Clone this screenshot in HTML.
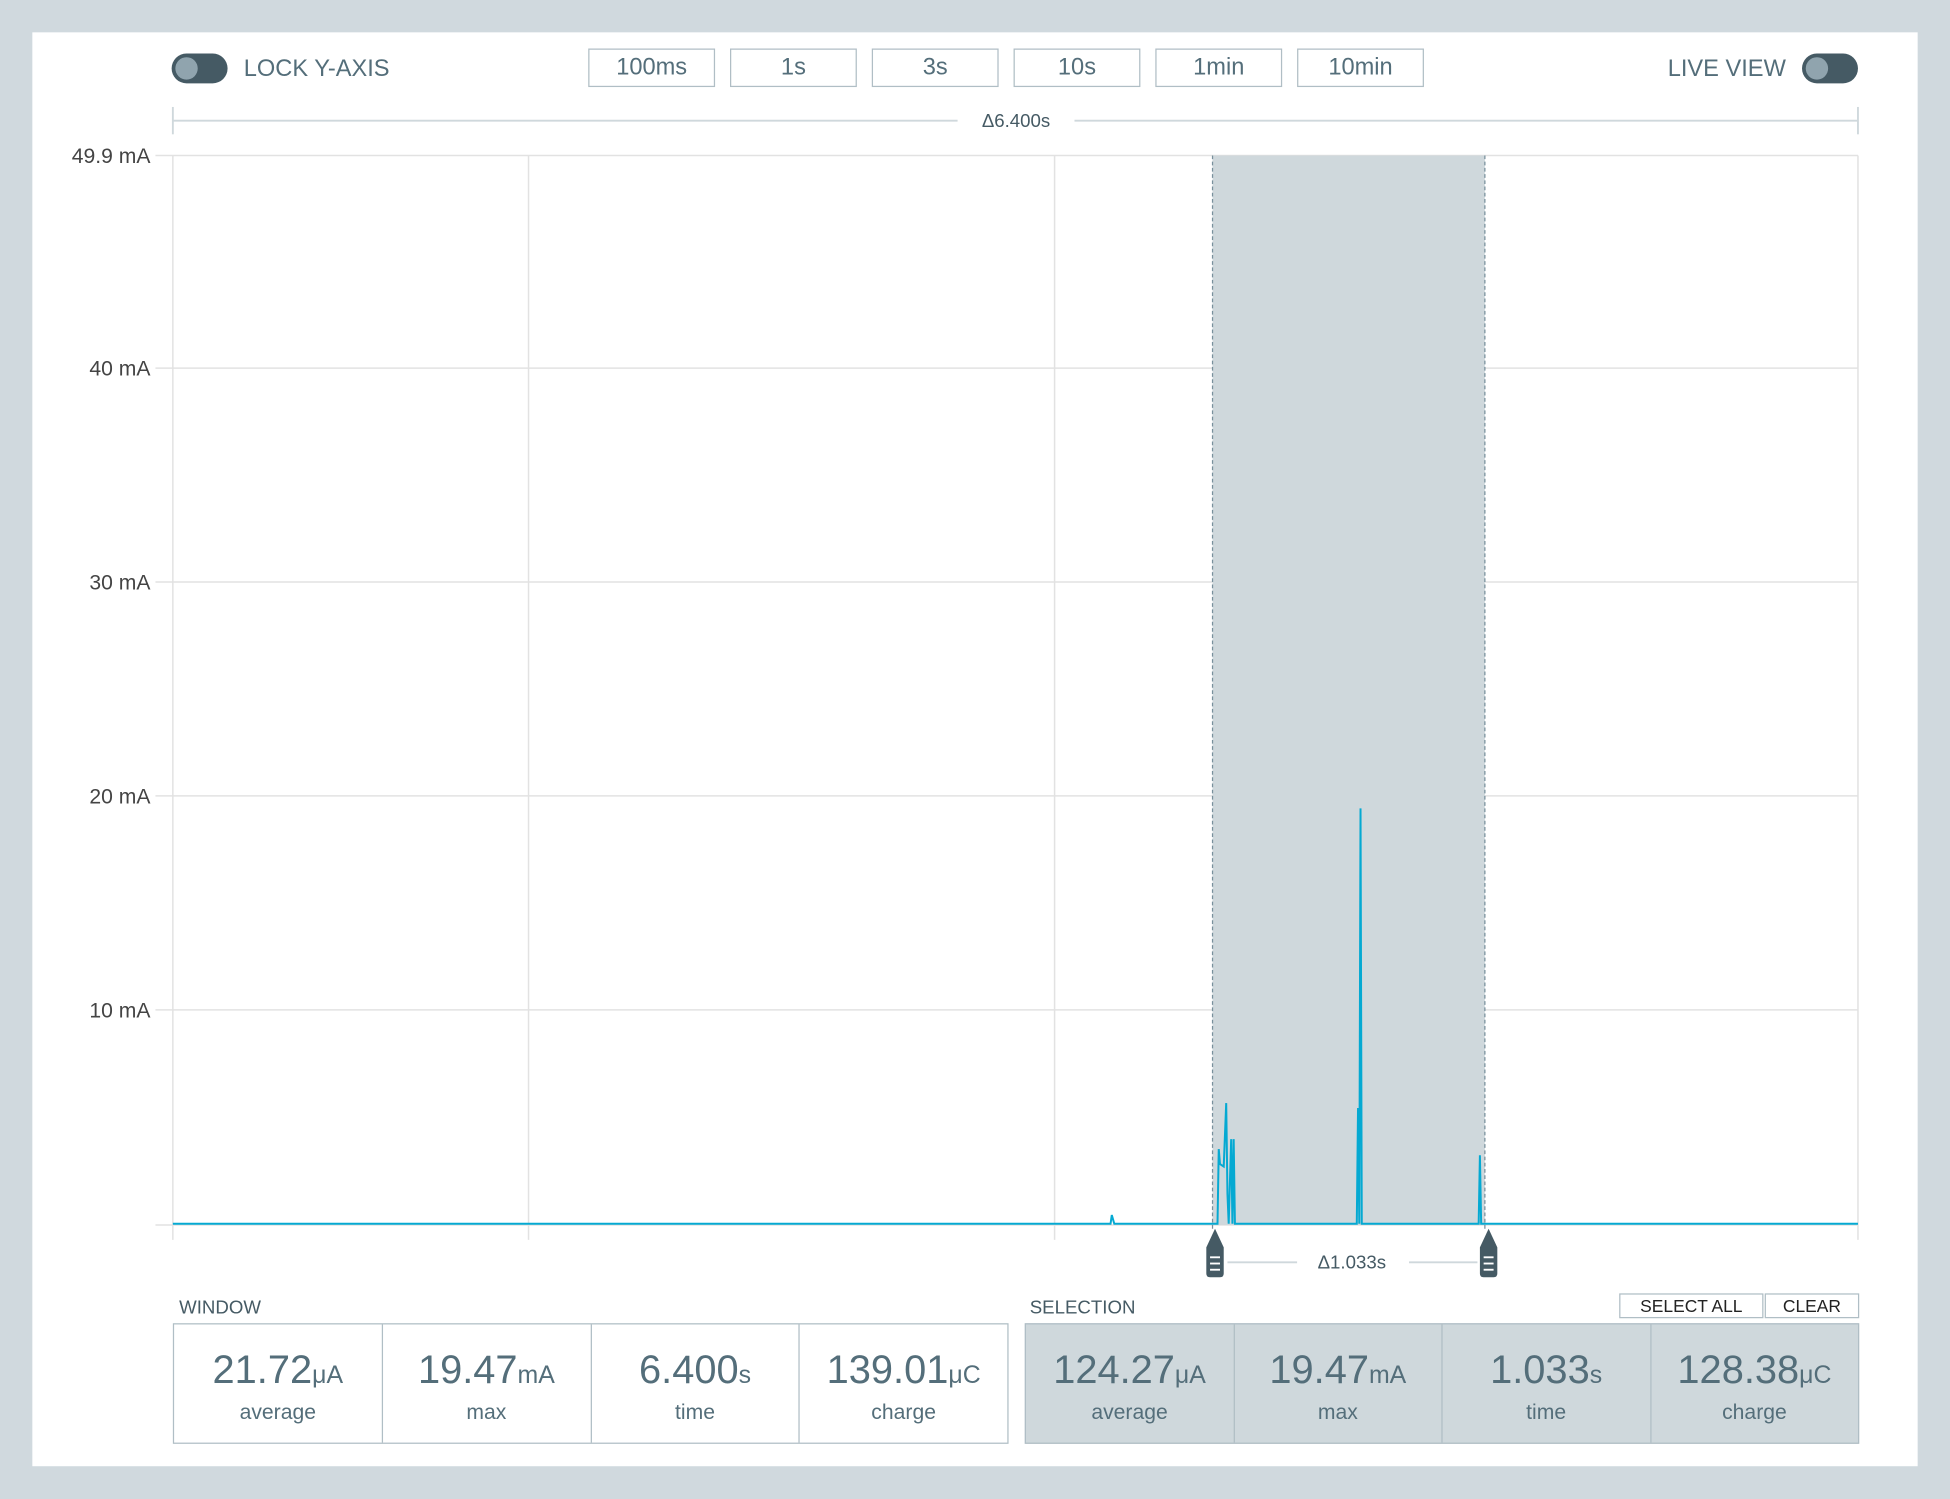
<!DOCTYPE html>
<html><head><style>
html,body{margin:0;padding:0;}
body{width:1950px;height:1498px;overflow:hidden;background:#d0d9de;font-family:"Liberation Sans",sans-serif;}
#s{position:absolute;left:0;top:0;width:1568px;height:1205px;transform:scale(1.24362);transform-origin:0 0;}
.p{position:absolute;}
.btn{position:absolute;top:39px;width:100px;height:29px;border:1.5px solid #b0bec5;color:#546e7a;font-size:19px;text-align:center;line-height:29px;box-sizing:content-box;}
.tg{position:absolute;width:45px;height:24px;border-radius:12px;background:#455a64;}
.tg::after{content:"";position:absolute;left:3px;top:3px;width:18px;height:18px;border-radius:9px;background:#90a4ae;}
.lbl{position:absolute;color:#546e7a;font-size:19px;}
.box{position:absolute;top:1064px;height:95px;border:1.5px solid #b0bec5;display:flex;}
.c{flex:1;border-right:1.5px solid #b0bec5;text-align:center;color:#546e7a;}
.c:last-child{border-right:none;}
.v{font-size:32px;margin-top:18px;line-height:36px;}
.v span{font-size:20px;}
.l{font-size:17px;margin-top:2px;}
.sm{position:absolute;font-size:15px;color:#455a64;}
</style></head><body><div id="s">
<div class="p" style="left:26px;top:26px;width:1516px;height:1153px;background:#fff;"></div>
<div class="tg" style="left:138px;top:43px;"></div>
<div class="lbl" style="left:196px;top:45px;">LOCK Y-AXIS</div>
<div class="btn" style="left:473px">100ms</div>
<div class="btn" style="left:587px">1s</div>
<div class="btn" style="left:701px">3s</div>
<div class="btn" style="left:815px">10s</div>
<div class="btn" style="left:929px">1min</div>
<div class="btn" style="left:1043px">10min</div>
<div class="lbl" style="left:1341px;top:45px;">LIVE VIEW</div>
<div class="tg" style="left:1449px;top:43px;"></div>
<svg class="p" style="left:0;top:0" width="1568" height="1205" font-family="Liberation Sans, sans-serif">
<g stroke="#cfd8dc" stroke-width="1.5">
<line x1="139" y1="97" x2="770" y2="97"/><line x1="864" y1="97" x2="1494" y2="97"/>
<line x1="139" y1="86" x2="139" y2="108"/><line x1="1494" y1="86" x2="1494" y2="108"/>
</g>
<text x="817" y="102" font-size="15" fill="#455a64" text-anchor="middle">Δ6.400s</text>
<g stroke="#e2e2e2" stroke-width="1.2">
<line x1="125" y1="125" x2="1494" y2="125"/><line x1="125" y1="296" x2="1494" y2="296"/>
<line x1="125" y1="468" x2="1494" y2="468"/><line x1="125" y1="640" x2="1494" y2="640"/>
<line x1="125" y1="812" x2="1494" y2="812"/><line x1="125" y1="985" x2="1494" y2="985"/>
<line x1="139" y1="125" x2="139" y2="997"/><line x1="425" y1="125" x2="425" y2="997"/>
<line x1="848" y1="125" x2="848" y2="997"/><line x1="1494" y1="125" x2="1494" y2="997"/>
</g>
<g font-size="17" fill="#444" text-anchor="end">
<text x="121" y="131">49.9 mA</text><text x="121" y="302">40 mA</text><text x="121" y="474">30 mA</text>
<text x="121" y="646">20 mA</text><text x="121" y="818">10 mA</text></g>
<rect x="975" y="125" width="219" height="860" fill="#cfd8dc"/>
<g stroke="#78909c" stroke-width="1" stroke-dasharray="3,2">
<line x1="975" y1="125" x2="975" y2="988"/><line x1="1194" y1="125" x2="1194" y2="988"/></g>
<polyline fill="none" stroke="#05a9d2" stroke-width="1.6" points="139,984 893,984 894,977 896,984 979,984 980,924 981,936 984,938 986,887 987,960 988,984 990,916 991,984 992,916 993,984 1091,984 1092,891 1093,984 1094,650 1095,984 1189,984 1190,929 1191,984 1494,984"/>
<g fill="#455a64">
<path d="M977,988 L970,1003 L970,1024 Q970,1027 973,1027 L981,1027 Q984,1027 984,1024 L984,1003 Z"/>
<path d="M1197,988 L1190,1003 L1190,1024 Q1190,1027 1193,1027 L1201,1027 Q1204,1027 1204,1024 L1204,1003 Z"/></g>
<g stroke="#fff" stroke-width="1.5"><line x1="973" y1="1011" x2="981" y2="1011"/><line x1="973" y1="1016" x2="981" y2="1016"/><line x1="973" y1="1021" x2="981" y2="1021"/>
<line x1="1193" y1="1011" x2="1201" y2="1011"/><line x1="1193" y1="1016" x2="1201" y2="1016"/><line x1="1193" y1="1021" x2="1201" y2="1021"/></g>
<g stroke="#cfd8dc" stroke-width="1.5"><line x1="987" y1="1015" x2="1043" y2="1015"/><line x1="1133" y1="1015" x2="1188" y2="1015"/></g>
<text x="1087" y="1020" font-size="15" fill="#455a64" text-anchor="middle">Δ1.033s</text>
</svg>
<div class="sm" style="left:144px;top:1043px;">WINDOW</div>
<div class="sm" style="left:828px;top:1043px;">SELECTION</div>
<div class="p" style="left:1302px;top:1040px;width:114px;height:18px;border:1.5px solid #b0bec5;font-size:14px;text-align:center;line-height:18px;color:#222;">SELECT ALL</div>
<div class="p" style="left:1419px;top:1040px;width:74px;height:18px;border:1.5px solid #b0bec5;font-size:14px;text-align:center;line-height:18px;color:#222;">CLEAR</div>
<div class="box" style="left:139px;width:670px;">
<div class="c"><div class="v">21.72<span>μA</span></div><div class="l">average</div></div>
<div class="c"><div class="v">19.47<span>mA</span></div><div class="l">max</div></div>
<div class="c"><div class="v">6.400<span>s</span></div><div class="l">time</div></div>
<div class="c"><div class="v">139.01<span>μC</span></div><div class="l">charge</div></div></div>
<div class="box" style="left:824px;width:669px;background:#cfd8dc;">
<div class="c"><div class="v">124.27<span>μA</span></div><div class="l">average</div></div>
<div class="c"><div class="v">19.47<span>mA</span></div><div class="l">max</div></div>
<div class="c"><div class="v">1.033<span>s</span></div><div class="l">time</div></div>
<div class="c"><div class="v">128.38<span>μC</span></div><div class="l">charge</div></div></div>
</div></body></html>
